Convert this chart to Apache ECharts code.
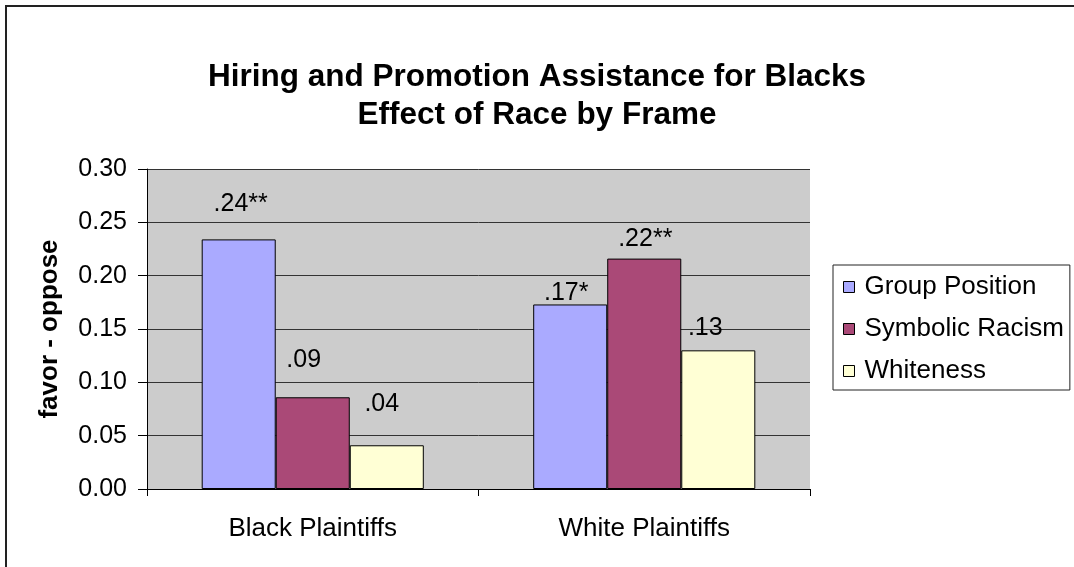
<!DOCTYPE html>
<html>
<head>
<meta charset="utf-8">
<script src="https://cdn.jsdelivr.net/npm/echarts@6/dist/echarts.min.js"></script>
<style>
html,body{margin:0;padding:0;background:#fff;}
#chart{width:1074px;height:567px;}
</style>
</head>
<body>
<div id="chart"></div>
<script>
// ---- data ----
const categories = ['Black Plaintiffs', 'White Plaintiffs'];
const seriesNames = ['Group Position', 'Symbolic Racism', 'Whiteness'];
const groupPosition = [0.234, 0.173];
const symbolicRacism = [0.086, 0.216];
const whiteness = [0.041, 0.130];
const groupPositionLabels = ['.24**', '.17*'];
const symbolicRacismLabels = ['.09', '.22**'];
const whitenessLabels = ['.04', '.13'];
const yTicks = [0, 0.05, 0.10, 0.15, 0.20, 0.25, 0.30];

// ---- styles ----
const FONT = '"Liberation Sans", Arial, sans-serif';
const colors = ['#AAAAFF', '#AA4977', '#FFFFD5'];
// label offsets [dx, dy] relative to bar top centre (styling only)
const labelOffsets = [
  [[2, -23], [-4, 1]],
  [[-9, -25], [1, -7]],
  [[-5, -29], [-13, -10]]
];
const values = [groupPosition, symbolicRacism, whiteness];
const labelTexts = [groupPositionLabels, symbolicRacismLabels, whitenessLabels];

const series = seriesNames.map((name, si) => ({
  name: name,
  type: 'bar',
  barGap: '0%',
  barCategoryGap: '33%',
  itemStyle: { color: colors[si], borderColor: '#000', borderWidth: 1 },
  data: values[si].map((v, ci) => ({
    value: v,
    label: {
      show: true,
      position: 'top',
      distance: 0,
      offset: labelOffsets[si][ci],
      formatter: labelTexts[si][ci],
      fontFamily: FONT,
      fontSize: 25,
      color: '#000'
    }
  }))
}));

const chart = echarts.init(document.getElementById('chart'), null, { renderer: 'canvas' });
chart.setOption({
  animation: false,
  backgroundColor: '#fff',
  title: {
    text: 'Hiring and Promotion Assistance for Blacks\nEffect of Race by Frame',
    left: 'center',
    top: 53,
    textStyle: { fontFamily: FONT, fontSize: 31.5, fontWeight: 'bold', color: '#000', lineHeight: 38 }
  },
  legend: {
    orient: 'vertical',
    left: 833,
    top: 265,
    padding: [9, 6, 6, 10],
    itemGap: 16,
    itemWidth: 11,
    itemHeight: 11,
    borderColor: '#222',
    borderWidth: 1,
    icon: 'rect',
    itemStyle: { borderColor: '#000', borderWidth: 1 },
    textStyle: { fontFamily: FONT, fontSize: 26, color: '#000', lineHeight: 26, padding: [0, 0, 0, 5] },
    data: seriesNames
  },
  grid: { left: 147, right: 264, top: 169, bottom: 78, containLabel: false,
          show: true, backgroundColor: '#CCCCCC', borderWidth: 0 },
  xAxis: {
    type: 'category',
    data: categories,
    axisLine: { show: true, lineStyle: { color: '#000', width: 1 } },
    axisTick: { show: true, length: 7, alignWithLabel: false, lineStyle: { color: '#000' } },
    axisLabel: { fontFamily: FONT, fontSize: 26, color: '#000', margin: 27 }
  },
  yAxis: {
    type: 'value',
    min: yTicks[0],
    max: yTicks[yTicks.length - 1],
    interval: 0.05,
    name: 'favor - oppose',
    nameLocation: 'middle',
    nameGap: 84,
    nameTextStyle: { fontFamily: FONT, fontSize: 26, fontWeight: 'bold', color: '#000' },
    axisLine: { show: true, lineStyle: { color: '#000', width: 1 } },
    axisTick: { show: true, length: 9, inside: false, lineStyle: { color: '#000' } },
    splitLine: { show: true, lineStyle: { color: '#333', width: 1 } },
    axisLabel: { fontFamily: FONT, fontSize: 25, color: '#000', margin: 20,
                 formatter: v => v.toFixed(2) }
  },
  graphic: [{
    type: 'rect',
    shape: { x: 6, y: 6, width: 1200, height: 700 },
    style: { fill: 'none', stroke: '#222', lineWidth: 2 },
    silent: true
  }],
  series: series
});
</script>
</body>
</html>
